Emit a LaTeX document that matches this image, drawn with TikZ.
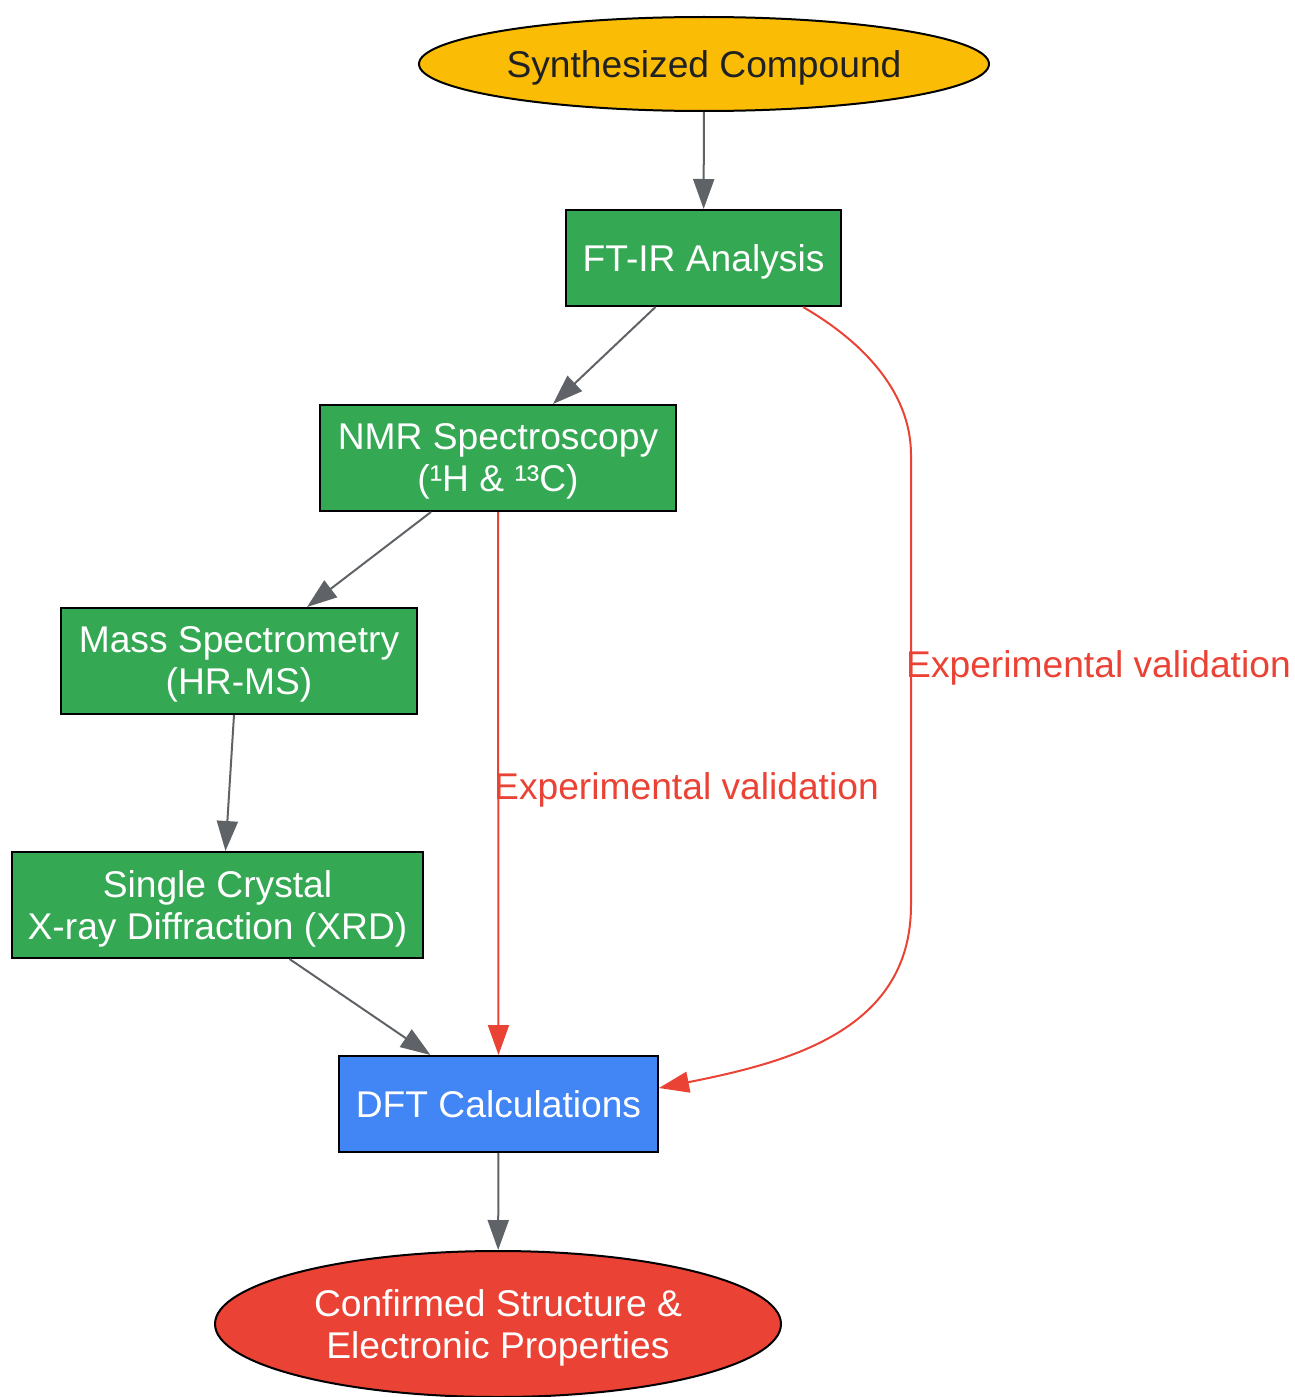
\documentclass[tikz,border=0pt]{standalone}
\usepackage{fontspec}
\setmainfont{Liberation Sans}
\usepackage{tikz}
\usetikzlibrary{positioning,shapes.geometric,arrows.meta}

\definecolor{gyellow}{HTML}{FBBC05}
\definecolor{ggreen}{HTML}{34A853}
\definecolor{gblue}{HTML}{4285F4}
\definecolor{gred}{HTML}{EA4335}
\definecolor{ggray}{HTML}{5F6368}
\definecolor{gdark}{HTML}{202124}

\begin{document}
\begin{tikzpicture}[x=1pt,y=-1pt,
    every node/.style={font=\fontsize{37.2}{42}\selectfont, align=center, inner sep=0pt, text depth=0pt},
    stepbox/.style={draw=black, line width=2pt, fill=ggreen, text=white, minimum height=106pt},
    oval/.style={ellipse, draw=black, line width=2pt},
    flow/.style={draw=ggray, line width=2pt, -{Triangle[length=30pt,width=21pt]}},
    check/.style={draw=gred, line width=2pt, -{Triangle[length=30pt,width=21pt]}},
    checklabel/.style={text=gred, anchor=west}]
            \useasboundingbox (0,0) rectangle (1294,1397);
            % nodes
            \node [oval, fill=gyellow, text=gdark, minimum width=570pt, minimum height=94pt] (compound) at (704,64) {Synthesized Compound};
            \node [stepbox, minimum width=275pt, minimum height=96pt] (ftir) at (703.5,258) {FT-IR Analysis};
            \node [stepbox, minimum width=356pt] (nmr) at (498,458) {NMR Spectroscopy\\(¹H \& ¹³C)};
            \node [stepbox, minimum width=356pt] (ms) at (239,661) {Mass Spectrometry\\(HR-MS)};
            \node [stepbox, minimum width=411pt] (xrd) at (217.5,905) {Single Crystal\\X-ray Diffraction (XRD)};
            \node [stepbox, fill=gblue, minimum width=319pt, minimum height=96pt] (dft) at (498.5,1104) {DFT Calculations};
            \node [oval, fill=gred, text=white, minimum width=566pt, minimum height=146pt] (result) at (498,1324) {Confirmed Structure \&\\Electronic Properties};
            % main flow
            \draw [flow] (compound) -- (ftir);
            \draw [flow] ([xshift=-48pt]ftir.south) -- ([xshift=55pt]nmr.north);
            \draw [flow] ([xshift=-67pt]nmr.south) -- ([xshift=68pt]ms.north);
            \draw [flow] ([xshift=-5pt]ms.south) -- ([xshift=8pt]xrd.north);
            \draw [flow] ([xshift=72pt]xrd.south) -- ([xshift=-68pt]dft.north);
            \draw [flow] (dft) -- (result);
            % validation links
            \draw [check] (nmr.south) -- (dft.north);
            \node [checklabel] (val1) at (494,786) {Experimental validation};
            \draw [check] ([xshift=-39pt]ftir.south east) .. controls (860,340) and (911,390) .. (911,455)
                -- (911,905) .. controls (911,1030) and (790,1062) .. ([yshift=16pt]dft.east);
            \node [checklabel] (val2) at (906,664) {Experimental validation};
        \end{tikzpicture}
\end{document}
